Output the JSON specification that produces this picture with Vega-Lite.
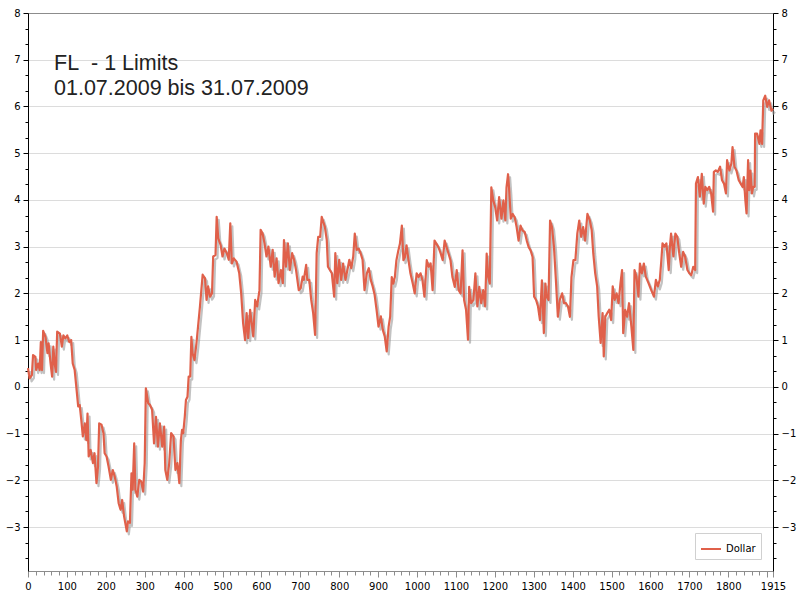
{
  "$schema": "https://vega.github.io/schema/vega-lite/v6.json",
  "width": 745,
  "height": 558,
  "autosize": "none",
  "padding": {"left": 28, "top": 13, "right": 27, "bottom": 29},
  "background": "white",
  "title": {
    "text": ["FL\u00a0 - 1 Limits", "01.07.2009 bis 31.07.2009"],
    "orient": "top",
    "anchor": "start",
    "frame": "group",
    "baseline": "alphabetic",
    "offset": -108,
    "dx": 26,
    "lineHeight": 25,
    "font": "Liberation Sans",
    "fontSize": 21.5,
    "fontWeight": "normal",
    "color": "#222222"
  },
  "datasets": {
    "dollar": [
      {"n": 0, "v": 0.40}, {"n": 4, "v": 0.18}, {"n": 10, "v": 0.25}, {"n": 13, "v": 0.68},
      {"n": 19, "v": 0.64}, {"n": 21, "v": 0.36}, {"n": 26, "v": 0.50}, {"n": 30, "v": 0.36},
      {"n": 33, "v": 0.96}, {"n": 36, "v": 0.36}, {"n": 39, "v": 1.20}, {"n": 45, "v": 1.07},
      {"n": 50, "v": 0.72}, {"n": 53, "v": 0.93}, {"n": 58, "v": 0.50}, {"n": 62, "v": 0.22},
      {"n": 65, "v": 0.86}, {"n": 69, "v": 0.47}, {"n": 72, "v": 0.32}, {"n": 75, "v": 1.18},
      {"n": 82, "v": 1.14}, {"n": 87, "v": 0.86}, {"n": 91, "v": 1.10}, {"n": 96, "v": 1.04},
      {"n": 101, "v": 1.10}, {"n": 106, "v": 0.96}, {"n": 111, "v": 1.00}, {"n": 115, "v": 0.50},
      {"n": 120, "v": 0.36}, {"n": 125, "v": -0.07}, {"n": 129, "v": -0.42}, {"n": 133, "v": -0.39},
      {"n": 137, "v": -0.71}, {"n": 141, "v": -1.06}, {"n": 146, "v": -0.78}, {"n": 150, "v": -1.14},
      {"n": 153, "v": -0.57}, {"n": 156, "v": -1.49}, {"n": 161, "v": -1.35}, {"n": 167, "v": -1.63},
      {"n": 171, "v": -1.42}, {"n": 176, "v": -2.06}, {"n": 180, "v": -1.70}, {"n": 183, "v": -0.78},
      {"n": 189, "v": -0.81}, {"n": 194, "v": -0.99}, {"n": 197, "v": -1.42}, {"n": 202, "v": -1.49},
      {"n": 207, "v": -1.70}, {"n": 213, "v": -1.99}, {"n": 218, "v": -1.78}, {"n": 223, "v": -1.92},
      {"n": 228, "v": -2.13}, {"n": 233, "v": -2.49}, {"n": 238, "v": -2.63}, {"n": 242, "v": -2.42},
      {"n": 247, "v": -2.77}, {"n": 250, "v": -2.91}, {"n": 254, "v": -3.09}, {"n": 257, "v": -2.88},
      {"n": 262, "v": -2.91}, {"n": 266, "v": -1.85}, {"n": 269, "v": -2.20}, {"n": 273, "v": -1.21},
      {"n": 276, "v": -2.20}, {"n": 281, "v": -2.35}, {"n": 286, "v": -1.99}, {"n": 291, "v": -2.02},
      {"n": 296, "v": -2.24}, {"n": 300, "v": -1.63}, {"n": 303, "v": -0.03}, {"n": 309, "v": -0.35},
      {"n": 314, "v": -0.39}, {"n": 319, "v": -0.49}, {"n": 324, "v": -1.21}, {"n": 329, "v": -0.64},
      {"n": 334, "v": -1.28}, {"n": 339, "v": -0.78}, {"n": 345, "v": -1.28}, {"n": 350, "v": -0.85},
      {"n": 353, "v": -1.78}, {"n": 358, "v": -1.99}, {"n": 363, "v": -1.63}, {"n": 368, "v": -0.99},
      {"n": 374, "v": -1.06}, {"n": 379, "v": -1.78}, {"n": 384, "v": -1.63}, {"n": 389, "v": -2.06},
      {"n": 393, "v": -1.14}, {"n": 396, "v": -0.92}, {"n": 399, "v": -0.99}, {"n": 403, "v": -0.64},
      {"n": 406, "v": -0.28}, {"n": 410, "v": -0.21}, {"n": 413, "v": 0.22}, {"n": 417, "v": 0.22},
      {"n": 420, "v": 1.07}, {"n": 423, "v": 0.72}, {"n": 428, "v": 0.57}, {"n": 433, "v": 0.93},
      {"n": 442, "v": 1.72}, {"n": 449, "v": 2.40}, {"n": 455, "v": 2.32}, {"n": 459, "v": 1.86},
      {"n": 463, "v": 2.15}, {"n": 468, "v": 1.93}, {"n": 473, "v": 2.00}, {"n": 476, "v": 2.79},
      {"n": 482, "v": 2.82}, {"n": 485, "v": 3.64}, {"n": 489, "v": 3.18}, {"n": 495, "v": 3.04},
      {"n": 500, "v": 2.79}, {"n": 505, "v": 2.96}, {"n": 511, "v": 2.86}, {"n": 516, "v": 2.72},
      {"n": 520, "v": 3.50}, {"n": 524, "v": 2.64}, {"n": 529, "v": 2.75}, {"n": 536, "v": 2.68},
      {"n": 543, "v": 2.43}, {"n": 548, "v": 2.00}, {"n": 553, "v": 1.36}, {"n": 558, "v": 1.00},
      {"n": 562, "v": 1.58}, {"n": 566, "v": 1.04}, {"n": 571, "v": 1.65}, {"n": 576, "v": 1.29},
      {"n": 579, "v": 1.08}, {"n": 584, "v": 1.86}, {"n": 589, "v": 1.72}, {"n": 595, "v": 2.07},
      {"n": 598, "v": 3.36}, {"n": 603, "v": 3.28}, {"n": 608, "v": 3.07}, {"n": 613, "v": 2.79},
      {"n": 618, "v": 3.00}, {"n": 624, "v": 2.57}, {"n": 629, "v": 2.93}, {"n": 634, "v": 2.36},
      {"n": 639, "v": 2.75}, {"n": 644, "v": 2.22}, {"n": 650, "v": 2.50}, {"n": 655, "v": 2.22},
      {"n": 658, "v": 3.14}, {"n": 663, "v": 2.57}, {"n": 668, "v": 3.07}, {"n": 673, "v": 2.50},
      {"n": 679, "v": 2.86}, {"n": 684, "v": 2.72}, {"n": 689, "v": 2.50}, {"n": 696, "v": 2.07},
      {"n": 701, "v": 2.11}, {"n": 706, "v": 2.36}, {"n": 709, "v": 2.29}, {"n": 715, "v": 2.61},
      {"n": 718, "v": 2.29}, {"n": 723, "v": 2.29}, {"n": 728, "v": 1.86}, {"n": 733, "v": 1.58},
      {"n": 738, "v": 1.11}, {"n": 742, "v": 2.86}, {"n": 746, "v": 3.21}, {"n": 751, "v": 3.21},
      {"n": 755, "v": 3.64}, {"n": 759, "v": 3.53}, {"n": 763, "v": 3.43}, {"n": 768, "v": 3.14},
      {"n": 771, "v": 2.57}, {"n": 776, "v": 2.50}, {"n": 781, "v": 2.43}, {"n": 787, "v": 1.93},
      {"n": 790, "v": 2.86}, {"n": 795, "v": 2.22}, {"n": 800, "v": 2.72}, {"n": 805, "v": 2.29},
      {"n": 810, "v": 2.64}, {"n": 816, "v": 2.29}, {"n": 821, "v": 2.50}, {"n": 826, "v": 2.72},
      {"n": 831, "v": 2.54}, {"n": 836, "v": 2.79}, {"n": 840, "v": 3.28}, {"n": 845, "v": 2.93},
      {"n": 850, "v": 2.96}, {"n": 855, "v": 2.86}, {"n": 860, "v": 2.72}, {"n": 865, "v": 2.07},
      {"n": 871, "v": 2.43}, {"n": 876, "v": 2.54}, {"n": 881, "v": 2.29}, {"n": 886, "v": 2.15},
      {"n": 891, "v": 1.97}, {"n": 896, "v": 1.65}, {"n": 901, "v": 1.29}, {"n": 907, "v": 1.51},
      {"n": 912, "v": 1.22}, {"n": 917, "v": 1.08}, {"n": 922, "v": 0.76}, {"n": 927, "v": 1.29},
      {"n": 931, "v": 1.51}, {"n": 935, "v": 2.35}, {"n": 939, "v": 2.21}, {"n": 943, "v": 2.35},
      {"n": 947, "v": 2.71}, {"n": 952, "v": 2.92}, {"n": 956, "v": 3.06}, {"n": 961, "v": 3.45},
      {"n": 965, "v": 2.71}, {"n": 969, "v": 2.78}, {"n": 973, "v": 3.03}, {"n": 978, "v": 2.71},
      {"n": 983, "v": 2.43}, {"n": 989, "v": 2.21}, {"n": 994, "v": 2.00}, {"n": 999, "v": 2.43},
      {"n": 1004, "v": 2.35}, {"n": 1009, "v": 2.43}, {"n": 1014, "v": 2.28}, {"n": 1019, "v": 1.93},
      {"n": 1025, "v": 2.71}, {"n": 1030, "v": 2.57}, {"n": 1035, "v": 2.64}, {"n": 1040, "v": 2.07},
      {"n": 1045, "v": 3.13}, {"n": 1050, "v": 3.06}, {"n": 1055, "v": 2.99}, {"n": 1061, "v": 2.85},
      {"n": 1066, "v": 2.71}, {"n": 1071, "v": 3.13}, {"n": 1076, "v": 2.99}, {"n": 1081, "v": 2.85},
      {"n": 1086, "v": 2.71}, {"n": 1091, "v": 2.35}, {"n": 1097, "v": 2.14}, {"n": 1102, "v": 2.50},
      {"n": 1107, "v": 2.07}, {"n": 1112, "v": 2.00}, {"n": 1117, "v": 2.92}, {"n": 1121, "v": 1.86},
      {"n": 1126, "v": 1.65}, {"n": 1131, "v": 1.01}, {"n": 1134, "v": 2.14}, {"n": 1139, "v": 1.79},
      {"n": 1145, "v": 1.86}, {"n": 1150, "v": 2.43}, {"n": 1155, "v": 1.72}, {"n": 1160, "v": 2.14},
      {"n": 1165, "v": 1.79}, {"n": 1170, "v": 2.07}, {"n": 1175, "v": 1.72}, {"n": 1179, "v": 2.85},
      {"n": 1183, "v": 2.35}, {"n": 1187, "v": 2.21}, {"n": 1191, "v": 4.27}, {"n": 1196, "v": 3.99},
      {"n": 1201, "v": 3.84}, {"n": 1206, "v": 3.56}, {"n": 1211, "v": 4.06}, {"n": 1217, "v": 3.60},
      {"n": 1222, "v": 3.99}, {"n": 1227, "v": 3.56}, {"n": 1230, "v": 4.27}, {"n": 1234, "v": 4.55},
      {"n": 1237, "v": 4.20}, {"n": 1241, "v": 3.60}, {"n": 1246, "v": 3.70}, {"n": 1251, "v": 3.63},
      {"n": 1256, "v": 3.42}, {"n": 1261, "v": 3.13}, {"n": 1266, "v": 3.45}, {"n": 1271, "v": 3.35},
      {"n": 1277, "v": 3.31}, {"n": 1282, "v": 3.13}, {"n": 1287, "v": 2.99}, {"n": 1292, "v": 2.92},
      {"n": 1297, "v": 2.78}, {"n": 1301, "v": 1.93}, {"n": 1306, "v": 1.86}, {"n": 1311, "v": 1.72},
      {"n": 1316, "v": 1.43}, {"n": 1321, "v": 2.28}, {"n": 1326, "v": 1.15}, {"n": 1330, "v": 2.21},
      {"n": 1333, "v": 1.93}, {"n": 1338, "v": 1.86}, {"n": 1342, "v": 3.56}, {"n": 1347, "v": 3.42},
      {"n": 1352, "v": 2.99}, {"n": 1357, "v": 2.28}, {"n": 1362, "v": 1.50}, {"n": 1367, "v": 1.86},
      {"n": 1373, "v": 2.00}, {"n": 1378, "v": 1.79}, {"n": 1383, "v": 1.79}, {"n": 1388, "v": 1.72},
      {"n": 1393, "v": 1.50}, {"n": 1397, "v": 2.35}, {"n": 1402, "v": 2.71}, {"n": 1407, "v": 2.71},
      {"n": 1412, "v": 3.28}, {"n": 1417, "v": 3.56}, {"n": 1422, "v": 3.21}, {"n": 1427, "v": 3.42},
      {"n": 1432, "v": 3.13}, {"n": 1438, "v": 3.70}, {"n": 1444, "v": 3.57}, {"n": 1449, "v": 3.35},
      {"n": 1453, "v": 2.86}, {"n": 1458, "v": 2.43}, {"n": 1463, "v": 2.15}, {"n": 1467, "v": 1.50},
      {"n": 1472, "v": 0.94}, {"n": 1477, "v": 1.58}, {"n": 1480, "v": 0.65}, {"n": 1484, "v": 1.50},
      {"n": 1489, "v": 1.58}, {"n": 1494, "v": 1.65}, {"n": 1499, "v": 1.43}, {"n": 1503, "v": 2.15},
      {"n": 1508, "v": 1.86}, {"n": 1513, "v": 2.00}, {"n": 1518, "v": 1.79}, {"n": 1523, "v": 2.22},
      {"n": 1527, "v": 2.50}, {"n": 1530, "v": 1.15}, {"n": 1535, "v": 1.65}, {"n": 1540, "v": 1.50},
      {"n": 1545, "v": 1.79}, {"n": 1551, "v": 1.29}, {"n": 1556, "v": 0.79}, {"n": 1559, "v": 2.50},
      {"n": 1564, "v": 2.36}, {"n": 1569, "v": 1.93}, {"n": 1573, "v": 2.64}, {"n": 1578, "v": 2.43},
      {"n": 1583, "v": 2.64}, {"n": 1588, "v": 2.36}, {"n": 1595, "v": 2.22}, {"n": 1602, "v": 2.07},
      {"n": 1609, "v": 1.93}, {"n": 1614, "v": 2.29}, {"n": 1619, "v": 2.15}, {"n": 1624, "v": 2.29},
      {"n": 1628, "v": 2.71}, {"n": 1631, "v": 3.07}, {"n": 1636, "v": 3.00}, {"n": 1641, "v": 3.07},
      {"n": 1647, "v": 2.50}, {"n": 1650, "v": 3.00}, {"n": 1653, "v": 3.28}, {"n": 1659, "v": 2.79},
      {"n": 1664, "v": 3.28}, {"n": 1669, "v": 3.21}, {"n": 1674, "v": 2.86}, {"n": 1679, "v": 2.57},
      {"n": 1684, "v": 2.89}, {"n": 1689, "v": 2.79}, {"n": 1695, "v": 2.50}, {"n": 1700, "v": 2.43},
      {"n": 1705, "v": 2.39}, {"n": 1710, "v": 2.57}, {"n": 1715, "v": 2.50}, {"n": 1717, "v": 4.35},
      {"n": 1722, "v": 4.49}, {"n": 1727, "v": 4.07}, {"n": 1732, "v": 4.56}, {"n": 1737, "v": 3.92},
      {"n": 1741, "v": 4.28}, {"n": 1746, "v": 4.21}, {"n": 1751, "v": 4.28}, {"n": 1756, "v": 4.14},
      {"n": 1761, "v": 3.75}, {"n": 1763, "v": 4.60}, {"n": 1768, "v": 4.63}, {"n": 1773, "v": 4.60},
      {"n": 1779, "v": 4.71}, {"n": 1784, "v": 4.42}, {"n": 1789, "v": 4.35}, {"n": 1794, "v": 4.14},
      {"n": 1797, "v": 4.85}, {"n": 1803, "v": 4.63}, {"n": 1808, "v": 4.78}, {"n": 1811, "v": 5.13},
      {"n": 1816, "v": 4.71}, {"n": 1821, "v": 4.63}, {"n": 1827, "v": 4.42}, {"n": 1832, "v": 4.35},
      {"n": 1837, "v": 4.28}, {"n": 1840, "v": 4.49}, {"n": 1844, "v": 3.99}, {"n": 1847, "v": 3.71},
      {"n": 1851, "v": 4.85}, {"n": 1854, "v": 4.21}, {"n": 1857, "v": 4.63}, {"n": 1861, "v": 4.14},
      {"n": 1864, "v": 4.28}, {"n": 1868, "v": 4.28}, {"n": 1869, "v": 5.42}, {"n": 1874, "v": 5.42},
      {"n": 1880, "v": 5.20}, {"n": 1883, "v": 5.49}, {"n": 1887, "v": 5.20}, {"n": 1890, "v": 6.13},
      {"n": 1895, "v": 6.23}, {"n": 1900, "v": 5.99}, {"n": 1905, "v": 6.13}, {"n": 1911, "v": 5.91},
      {"n": 1915, "v": 5.95}
    ]
  },
  "data": {"name": "dollar"},
  "layer": [
    {
      "description": "shadow under the line, carries the right and top axes",
      "mark": {
        "type": "line",
        "color": "#9a9a9a",
        "opacity": 0.6,
        "strokeWidth": 2.2,
        "strokeJoin": "round",
        "xOffset": 2,
        "yOffset": 3
      },
      "encoding": {
        "x": {
          "field": "n",
          "type": "quantitative",
          "scale": {"domain": [0, 1915], "nice": false, "zero": false},
          "axis": {
            "orient": "top",
            "title": null,
            "labels": false,
            "ticks": false,
            "grid": false,
            "domainColor": "#8c8c8c"
          }
        },
        "y": {
          "field": "v",
          "type": "quantitative",
          "scale": {"domain": [-3.94, 8], "nice": false, "zero": false},
          "axis": {
            "orient": "right",
            "title": null,
            "grid": false,
            "values": [-3.6667, -3.3333, -3, -2.6667, -2.3333, -2, -1.6667, -1.3333, -1, -0.6667, -0.3333, 0, 0.3333, 0.6667, 1, 1.3333, 1.6667, 2, 2.3333, 2.6667, 3, 3.3333, 3.6667, 4, 4.3333, 4.6667, 5, 5.3333, 5.6667, 6, 6.3333, 6.6667, 7, 7.3333, 7.6667, 8],
            "labelExpr": "abs(datum.value - round(datum.value)) < 0.01 ? format(round(datum.value), 'd') : ''",
            "labelFlush": false,
            "labelOverlap": false,
            "labelPadding": 3,
            "tickSize": {"condition": {"test": "abs(datum.value - round(datum.value)) < 0.01", "value": 5}, "value": 3},
            "domainColor": "black",
            "tickColor": "black"
          }
        }
      }
    },
    {
      "description": "Dollar line, carries the left and bottom axes",
      "mark": {
        "type": "line",
        "strokeWidth": 2.2,
        "strokeJoin": "round"
      },
      "encoding": {
        "x": {
          "field": "n",
          "type": "quantitative",
          "axis": {
            "orient": "bottom",
            "title": null,
            "grid": false,
            "values": [0, 20, 40, 60, 80, 100, 120, 140, 160, 180, 200, 220, 240, 260, 280, 300, 320, 340, 360, 380, 400, 420, 440, 460, 480, 500, 520, 540, 560, 580, 600, 620, 640, 660, 680, 700, 720, 740, 760, 780, 800, 820, 840, 860, 880, 900, 920, 940, 960, 980, 1000, 1020, 1040, 1060, 1080, 1100, 1120, 1140, 1160, 1180, 1200, 1220, 1240, 1260, 1280, 1300, 1320, 1340, 1360, 1380, 1400, 1420, 1440, 1460, 1480, 1500, 1520, 1540, 1560, 1580, 1600, 1620, 1640, 1660, 1680, 1700, 1720, 1740, 1760, 1780, 1800, 1820, 1840, 1860, 1880, 1900, 1915],
            "labelExpr": "(datum.value % 100 == 0 && datum.value <= 1800) || datum.value == 1915 ? datum.value + '' : ''",
            "labelFlush": false,
            "labelOverlap": false,
            "labelPadding": 4,
            "tickSize": {"condition": {"test": "datum.value % 100 == 0 || datum.value == 1915", "value": 6}, "value": 4},
            "domainColor": "#8c8c8c",
            "tickColor": "#8c8c8c"
          }
        },
        "y": {
          "field": "v",
          "type": "quantitative",
          "axis": {
            "orient": "left",
            "title": null,
            "values": [-3.6667, -3.3333, -3, -2.6667, -2.3333, -2, -1.6667, -1.3333, -1, -0.6667, -0.3333, 0, 0.3333, 0.6667, 1, 1.3333, 1.6667, 2, 2.3333, 2.6667, 3, 3.3333, 3.6667, 4, 4.3333, 4.6667, 5, 5.3333, 5.6667, 6, 6.3333, 6.6667, 7, 7.3333, 7.6667, 8],
            "labelExpr": "abs(datum.value - round(datum.value)) < 0.01 ? format(round(datum.value), 'd') : ''",
            "labelFlush": false,
            "labelOverlap": false,
            "labelPadding": 3,
            "tickSize": {"condition": {"test": "abs(datum.value - round(datum.value)) < 0.01", "value": 5}, "value": 3},
            "grid": true,
            "gridColor": "#dcdcdc",
            "gridOpacity": {"condition": {"test": "abs(datum.value - round(datum.value)) < 0.01", "value": 1}, "value": 0},
            "domainColor": "black",
            "tickColor": "black"
          }
        },
        "color": {
          "datum": "Dollar",
          "type": "nominal",
          "scale": {"range": ["#e0604a"]},
          "legend": {
            "title": null,
            "orient": "bottom-right",
            "offset": 12,
            "padding": 5,
            "fillColor": "white",
            "strokeColor": "#d0d0d0",
            "symbolType": "stroke",
            "symbolSize": 400,
            "symbolStrokeWidth": 2,
            "labelFont": "DejaVu Sans",
            "labelFontSize": 10,
            "labelColor": "black"
          }
        }
      }
    }
  ],
  "resolve": {"axis": {"x": "independent", "y": "independent"}},
  "config": {
    "view": {"stroke": null},
    "axis": {
      "labelFont": "DejaVu Sans",
      "labelFontSize": 10,
      "labelColor": "black",
      "domainWidth": 1,
      "tickWidth": 1
    }
  }
}
